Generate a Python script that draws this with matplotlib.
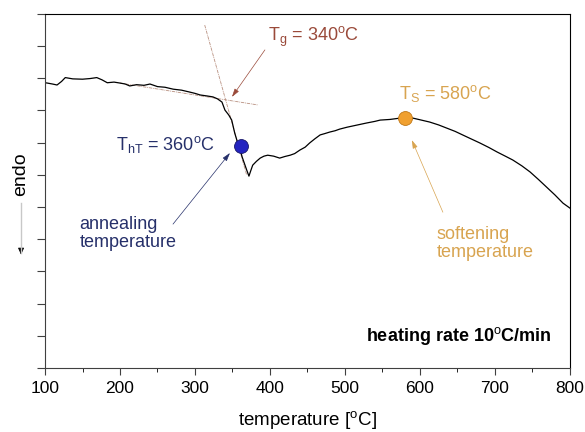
import numpy as np
import matplotlib
matplotlib.use("Agg")
import matplotlib.pyplot as plt
from matplotlib.ticker import MultipleLocator, NullFormatter

plt.rcParams['font.family'] = ['Liberation Sans', 'DejaVu Sans']
plt.rcParams['mathtext.fontset'] = 'custom'
plt.rcParams['mathtext.rm'] = 'Liberation Sans'
plt.rcParams['mathtext.it'] = 'Liberation Sans:italic'
plt.rcParams['mathtext.bf'] = 'Liberation Sans:bold'

# DSC trace (arbitrary heat-flow units)
temp = [100, 103, 110, 116, 122, 127, 137, 150, 160, 169, 176, 183, 192, 200,
        207, 213, 222, 232, 240, 250, 260, 271, 282, 293, 300, 307, 316, 324,
        330, 336, 340, 345, 349, 353, 357, 360, 363, 366, 369, 372, 374, 377,
        382, 387, 392, 397, 405, 413, 420, 427, 433, 440, 447, 453, 460, 467,
        473, 480, 487, 493, 503, 515, 529, 540, 547, 560, 573, 580, 591, 602,
        613, 625, 636, 647, 657, 668, 680, 692, 703, 714, 724, 736, 747, 758,
        769, 780, 791, 800]
signal = [8.86, 8.85, 8.82, 8.79, 8.90, 9.02, 8.98, 8.97, 8.99, 9.02, 8.95, 8.86,
          8.88, 8.85, 8.82, 8.76, 8.80, 8.78, 8.82, 8.74, 8.72, 8.66, 8.63,
          8.57, 8.53, 8.48, 8.45, 8.42, 8.36, 8.26, 8.01, 7.86, 7.70, 7.30,
          6.99, 6.80, 6.55, 6.35, 6.15, 5.96, 6.10, 6.30, 6.42, 6.52, 6.58,
          6.61, 6.58, 6.52, 6.57, 6.61, 6.66, 6.77, 6.86, 6.99, 7.12, 7.24,
          7.28, 7.33, 7.37, 7.42, 7.48, 7.54, 7.61, 7.66, 7.70, 7.72, 7.76,
          7.78, 7.76, 7.70, 7.64, 7.55, 7.45, 7.35, 7.24, 7.12, 6.99, 6.85,
          6.71, 6.58, 6.46, 6.28, 6.09, 5.86, 5.62, 5.38, 5.12, 4.97]

# construction (tangent) lines for Tg
tan_steep_x = [313, 369]
tan_steep_y = [10.65, 5.99]
tan_flat_x = [200, 384]
tan_flat_y = [8.85, 8.17]

t_g, t_ht, t_s = 340, 361, 580
y_ht, y_s = 6.90, 7.78

c_tg = '#9a4a3a'
c_ht = '#26306a'
c_s = '#d8a450'

fig = plt.figure(figsize=(5.85, 4.32), dpi=100)
ax = fig.add_axes([0.077, 0.148, 0.897, 0.820])

ax.plot(tan_steep_x, tan_steep_y, color='#b89080', lw=0.6, ls=(0, (4, 1, 1, 1)))
ax.plot(tan_flat_x, tan_flat_y, color='#b89080', lw=0.6, ls=(0, (4, 1, 1, 1)))
ax.plot(temp, signal, color='black', lw=0.9)

ax.plot([t_ht], [y_ht], 'o', ms=10, mfc='#2424c0', mec='#18186a', mew=0.6, zorder=5)
ax.plot([t_s], [y_s], 'o', ms=10, mfc='#f0a030', mec='#c07818', mew=0.6, zorder=5)

ax.set_xlim(100, 800)
ax.set_ylim(0, 11)
ax.xaxis.set_major_locator(MultipleLocator(100))
ax.xaxis.set_minor_locator(MultipleLocator(50))
ax.yaxis.set_major_locator(MultipleLocator(1))
ax.yaxis.set_major_formatter(NullFormatter())
ax.tick_params(axis='x', which='major', direction='out', length=5, labelsize=12.5, pad=4)
ax.tick_params(axis='x', which='minor', direction='out', length=3)
ax.tick_params(axis='y', direction='out', length=6)
for s in ['left', 'bottom']:
    ax.spines[s].set_color('#404040')
ax.tick_params(colors='#404040', labelcolor='black')

ax.set_xlabel('temperature [$^{\\rm o}$C]', fontsize=13.5, labelpad=10)

arrow = dict(arrowstyle='-|>,head_length=0.5,head_width=0.15', lw=0.5, shrinkA=0, shrinkB=0)

ax.text(397, 10.28, 'T$_{\\rm g}$ = 340$^{\\rm o}$C', color=c_tg, fontsize=13, va='center')
ax.annotate('', xy=(349.3, 8.42), xytext=(393.3, 9.88),
            arrowprops=dict(arrow, color=c_tg))

ax.text(195, 6.93, 'T$_{\\rm hT}$ = 360$^{\\rm o}$C', color=c_ht, fontsize=13, va='center')
ax.text(146, 4.72, 'annealing\ntemperature', color=c_ht, fontsize=13, va='top',
        linespacing=1.1)
ax.annotate('', xy=(346.7, 6.68), xytext=(270.7, 4.47),
            arrowprops=dict(arrow, color=c_ht))

ax.text(572, 8.54, 'T$_{\\rm S}$ = 580$^{\\rm o}$C', color=c_s, fontsize=13, va='center')
ax.text(622, 4.42, 'softening\ntemperature', color=c_s, fontsize=13, va='top',
        linespacing=1.1)
ax.annotate('', xy=(589.3, 7.08), xytext=(630.7, 4.84),
            arrowprops=dict(arrow, color=c_s))

ax.text(776, 1.0, 'heating rate 10$^{\\rm o}$C/min', fontsize=13, fontweight='bold',
        ha='right', va='center')

fig.text(0.036, 0.597, 'endo', rotation=90, fontsize=14, ha='center', va='center')
fig.add_artist(matplotlib.lines.Line2D([0.036, 0.036], [0.530, 0.415],
                                       color='#c8c8c8', lw=1.0))
fig.add_artist(matplotlib.patches.FancyArrowPatch(
    (0.036, 0.43), (0.036, 0.404), transform=fig.transFigure,
    arrowstyle='-|>,head_length=4,head_width=1.8', color='black', lw=0.6,
    mutation_scale=1))

fig.savefig('out.png', dpi=100)
